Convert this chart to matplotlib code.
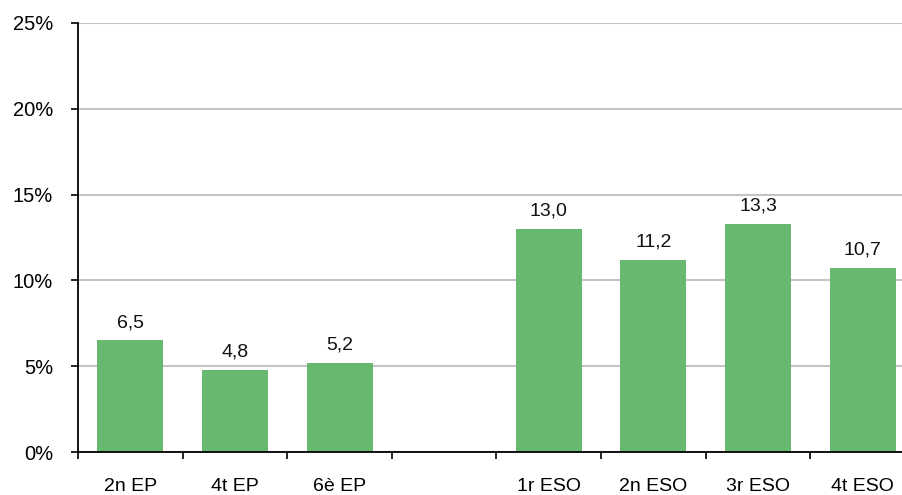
import matplotlib.pyplot as plt
import numpy as np

plt.rcParams['font.family'] = ['Liberation Sans', 'DejaVu Sans']

# empty slot separates primary (EP) from secondary (ESO)
categories = ['2n EP', '4t EP', '6è EP', '', '1r ESO', '2n ESO', '3r ESO', '4t ESO']
values = [6.5, 4.8, 5.2, np.nan, 13.0, 11.2, 13.3, 10.7]
labels = ['6,5', '4,8', '5,2', '', '13,0', '11,2', '13,3', '10,7']
yticks = [0, 5, 10, 15, 20, 25]

fig = plt.figure(figsize=(9.03, 4.95), dpi=100)
ax = fig.add_axes([78 / 903, 43 / 495, 837 / 903, 429 / 495])

x = np.arange(len(categories)) + 0.5
bars = ax.bar(x, values, width=0.63, color='#67b96f', zorder=3)

for xi, v, lab in zip(x, values, labels):
    if np.isnan(v):
        continue
    ax.text(xi, v + 0.55, lab, ha='center', va='bottom', fontsize=14, color='#111111')

ax.set_xlim(0, len(categories))
ax.set_ylim(0, 25)
ax.set_yticks(yticks)
ax.set_yticklabels(['{}%'.format(t) for t in yticks], fontsize=14.5)
ax.yaxis.grid(True, color='#c4c4c4', lw=1.5, zorder=0)

ax.set_xticks(np.arange(len(categories) + 1))
ax.set_xticklabels([])
ax.set_xticks(x, minor=True)
ax.set_xticklabels(categories, minor=True, fontsize=14)
ax.tick_params(axis='x', which='major', length=5, width=1.2, direction='out')
ax.tick_params(axis='x', which='minor', length=0, pad=18.5)
ax.tick_params(axis='y', length=5, width=1.2, pad=13)

for side in ('top', 'right'):
    ax.spines[side].set_visible(False)
for side in ('left', 'bottom'):
    ax.spines[side].set_linewidth(1.3)
    ax.spines[side].set_zorder(4)

fig.savefig('out.png', dpi=100)
